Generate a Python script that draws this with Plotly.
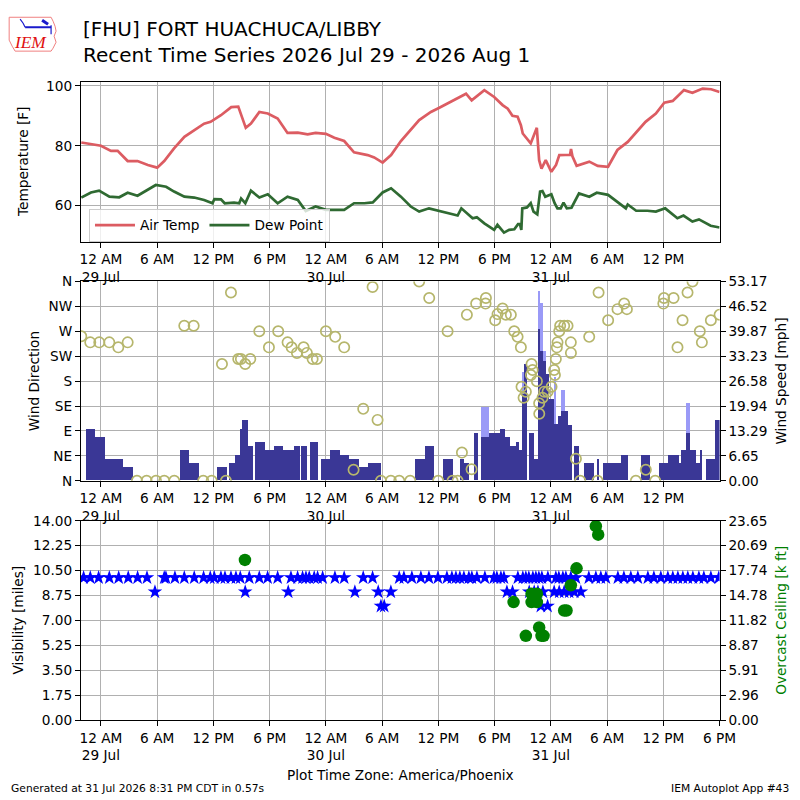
import pandas as pd
import plotly.graph_objects as go

# Time base: hours relative to 2026-07-29 00:00 local (America/Phoenix)
base = pd.Timestamp("2026-07-29 00:00")

# Air temperature / dew point [F]
temp_hr = [-2.1, 0, 1.07, 1.78, 2.85, 3.9, 5.0, 6.0, 6.75, 7.8, 8.9, 9.95, 11.0, 11.7, 12.8, 13.9, 14.65,
           15.45, 16.0, 16.9, 17.8, 18.85, 19.9, 21.0, 22.05, 22.9, 24.0, 24.9, 25.95, 27.0, 28.45, 29.15,
           30.05, 30.95, 32.0, 33.95, 35.2, 36.1, 37.5, 38.95, 39.55, 40.9, 41.95, 42.85, 43.4, 43.9, 44.45,
           44.8, 45.0, 45.85, 46.5, 46.75, 47.0, 47.45, 48.05, 48.55, 48.9, 49.6, 50.05, 50.15, 50.3, 50.75,
           52.1, 53.0, 54.1, 55.1, 56.2, 58.1, 59.2, 60.1, 61.0, 62.2, 63.1, 64.2, 65.1, 66.0]
temp_f = [81.1, 80.0, 78.3, 78.3, 74.9, 74.9, 73.6, 72.7, 74.9, 79.1, 83.0, 85.2, 87.4, 88.0, 90.2, 92.9, 93.1,
          86.0, 87.4, 91.3, 90.8, 89.1, 84.3, 84.4, 83.8, 84.3, 84.0, 82.7, 81.6, 77.8, 76.9, 76.1,
          74.4, 76.9, 81.6, 88.6, 91.3, 92.7, 94.9, 97.4, 95.2, 98.6, 96.3, 93.6, 92.4, 90.0, 89.7,
          86.9, 84.1, 80.8, 86.0, 75.2, 72.4, 75.2, 71.3, 73.6, 76.9, 77.1, 77.0, 78.9, 76.5, 73.3,
          74.7, 73.3, 73.0, 78.6, 81.3, 88.0, 90.8, 94.4, 95.0, 98.6, 97.7, 99.1, 98.9, 98.0]

dew_hr = [-2.1, -1.07, -0.2, 0.9, 1.95, 2.85, 3.9, 5.0, 5.85, 6.95, 7.8, 8.9, 9.95, 11.0, 11.9, 12.1, 12.8,
          13.2, 14.2, 14.75, 14.95, 15.4, 16.0, 16.9, 17.8, 18.85, 19.9, 21.0, 21.85, 22.9, 24.0, 24.9,
          25.95, 27.0, 28.1, 29.0, 30.05, 30.95, 32.0, 33.05, 33.95, 35.0, 36.25, 37.7, 38.05, 38.45, 39.65,
          40.1, 40.9, 41.95, 42.3, 43.0, 43.55, 44.1, 44.5, 44.7, 44.85, 44.95, 45.45, 45.85, 46.15, 46.55,
          46.85, 47.1, 47.4, 48.05, 48.4, 48.7, 49.05, 49.35, 49.7, 50.2, 51.0, 52.1, 52.9, 54.1, 55.1,
          56.0, 56.2, 57.1, 58.3, 59.2, 60.2, 61.5, 62.15, 63.1, 63.8, 65.05, 66.0]
dew_f = [62.7, 64.4, 65.0, 63.0, 62.8, 64.3, 63.3, 65.2, 66.9, 66.3, 64.7, 63.0, 62.7, 61.9, 60.8, 62.2, 62.1,
         60.8, 61.0, 60.8, 62.4, 60.8, 65.0, 62.7, 63.8, 60.8, 63.0, 61.9, 58.2, 59.7, 58.6, 58.6,
         58.6, 60.8, 60.8, 61.1, 64.4, 65.8, 63.0, 59.7, 58.0, 59.1, 58.2, 57.1, 56.7, 59.1, 55.8,
         56.1, 54.1, 51.9, 53.6, 51.0, 51.9, 52.1, 53.8, 53.8, 51.9, 59.1, 59.4, 60.8, 58.0, 57.1,
         64.7, 64.9, 63.0, 63.8, 60.8, 59.1, 59.1, 61.0, 59.1, 59.3, 64.1, 63.0, 64.3, 63.6, 61.3,
         59.1, 60.4, 58.3, 58.3, 58.0, 59.1, 55.8, 56.7, 54.7, 55.4, 53.3, 52.7]

# Wind direction [deg]
wdir_hr = [-2.1, -1.14, -0.18, 0.89, 1.85, 2.85, 3.84, 4.87, 5.87, 6.75, 7.82, 8.89, 9.89, 10.91, 11.81,
           12.91, 13.33, 13.87, 14.65, 14.93, 15.39, 15.93, 16.89, 17.92, 18.91, 19.91, 20.34, 20.91, 21.62,
           21.97, 22.58, 23.04, 24.0, 24.99, 25.95, 26.95, 27.98, 28.98, 29.51, 29.87, 30.93, 31.82, 32.99,
           33.95, 35.02, 35.98, 36.98, 37.51, 38.05, 38.51, 39.04, 39.54, 40.03, 41.03, 41.07, 42.06, 42.31,
           42.85, 43.2, 43.73, 44.09, 44.45, 44.8, 44.87, 45.09, 45.33, 45.87, 45.94, 46.05, 46.51, 46.75,
           46.76, 47.11, 47.29, 47.65, 48.07, 48.35, 48.43, 48.53, 48.64, 48.71, 48.89, 48.99, 49.42, 49.78,
           50.13, 50.14, 50.67, 51.13, 52.09, 52.98, 53.09, 54.11, 55.11, 55.82, 56.11, 57.07, 58.13, 59.13,
           60.0, 60.07, 61.09, 61.51, 62.05, 62.58, 63.11, 63.89, 64.11, 65.07, 66.0]
wdir_deg = [261, 250, 250, 250, 241, 250, 0, 0, 0, 0, 0, 280, 280, 0, 0,
            211, 0, 340, 220, 220, 211, 220, 270, 241, 270, 250, 241, 231, 241,
            231, 220, 220, 270, 260, 241, 20, 130, 350, 110, 0, 0, 0, 0,
            360, 330, 0, 270, 0, 0, 51, 300, 21, 320, 320, 330, 290, 301,
            311, 300, 300, 270, 260, 241, 170, 150, 161, 191, 211, 200, 180, 140,
            121, 150, 161, 161, 170, 200, 191, 220, 241, 250, 270, 280, 280, 280,
            250, 231, 40, 0, 260, 0, 340, 290, 310, 320, 310, 0, 20, 0,
            320, 330, 330, 241, 290, 340, 360, 270, 250, 290, 300]

# Wind speed bars [mph], each bar runs from its start hour to the next one
bar_hr = [-1.6, -0.64, 0.43, 2.31, 3.38, 8.43, 9.39, 10.45, 12.37, 13.44, 13.65, 14.29, 14.86, 15.07, 15.65,
          16.18, 16.43, 17.49, 18.42, 19.38, 20.55, 21.19, 21.33, 21.97, 22.33, 23.11, 23.47, 24.43, 25.49,
          26.49, 27.49, 28.45, 29.87, 33.49, 34.56, 35.49, 36.48, 37.51, 38.29, 38.69, 39.28, 39.75, 40.24,
          40.53, 41.42, 42.56, 43.13, 43.63, 44.27, 44.62, 44.98, 45.15, 45.44, 45.65, 46.22, 46.65, 46.86,
          47.15, 47.47, 47.82, 48.35, 48.53, 48.78, 49.07, 49.53, 49.78, 50.21, 50.45, 50.95, 51.55, 52.61,
          52.98, 53.15, 53.51, 55.47, 56.18, 57.6, 58.56, 59.55, 60.51, 61.62, 61.87, 62.4, 62.86, 63.47,
          63.87, 64.11, 64.5, 65.47]
bar_mph = [13.8, 11.5, 5.75, 3.45, 0, 8.06, 4.6, 0, 3.45, 0, 4.6, 6.9, 13.8, 16.1, 9.2,
           0, 10.36, 8.06, 9.2, 8.06, 9.2, 0, 9.2, 0, 10.36, 0, 5.75, 8.06, 6.9,
           5.75, 3.45, 4.6, 0, 5.75, 9.2, 0, 5.75, 0, 5.75, 4.6, 0, 12.66, 0,
           11.5, 12.66, 13.8, 11.5, 9.2, 10.36, 8.06, 23.0, 31.07, 0, 12.66, 5.75, 40.3, 34.5,
           31.9, 28.4, 21.7, 15.1, 15.0, 17.3, 18.4, 18.4, 14.9, 0, 9.2, 0, 4.6, 0,
           5.75, 0, 4.6, 6.9, 0, 6.9, 0, 4.6, 6.9, 4.6, 8.06, 12.66, 8.06, 4.6,
           8.06, 0, 5.75, 16.1]
gust_hr = [40.53, 44.98, 46.65, 46.86, 47.15, 48.35, 49.07, 62.4]
gust_mph = [19.56, 28.8, 50.6, 47.2, 34.5, 27.5, 24.1, 20.7]
end_hr = 66.0

# Visibility [miles]
vis10_hr = [-1.85, -1.14, -0.25, 0.89, 1.89, 2.91, 3.91, 4.91, 6.75, 6.93, 7.89, 8.89, 9.95, 10.95, 11.66,
            12.09, 12.8, 13.23, 13.87, 14.4, 14.86, 15.82, 16.89, 17.78, 18.85, 20.27, 20.98, 21.51, 21.87,
            22.22, 22.75, 23.11, 23.65, 24.96, 25.95, 27.98, 28.98, 31.82, 32.32, 33.17, 34.13, 34.99, 35.95,
            36.91, 37.44, 37.87, 38.29, 38.72, 39.25, 39.57, 40.11, 40.96, 41.92, 42.24, 42.67, 42.99, 44.48,
            45.01, 45.33, 45.65, 46.08, 46.4, 46.72, 47.04, 47.68, 48.53, 48.85, 49.28, 49.6, 50.13, 50.67,
            52.05, 52.8, 53.33, 53.87, 55.15, 55.79, 56.53, 57.28, 58.35, 58.99, 59.73, 60.48, 61.01, 61.55,
            62.08, 62.61, 63.15, 63.79, 64.32, 65.07, 65.92]
vis9_hr = [5.76, 15.39, 19.98, 27.09, 29.58, 30.93, 43.31, 43.91, 45.69, 46.22, 46.62, 47.15, 48.35,
           48.89, 49.42, 49.95, 50.49, 51.2]
vis8_hr = [29.87, 30.22, 46.93, 47.65]

# Overcast ceiling [k ft]
ceil_hr = [15.36, 44.02, 45.33, 45.94, 46.51, 45.94, 46.51, 46.75, 47.0, 47.22, 49.42, 49.67, 50.13, 50.74,
           52.8, 53.05]
ceil_kft = [19, 14, 10, 15, 15, 14, 14, 11, 10, 10, 13, 13, 16, 18, 23, 22]

# Axis ticks
time_ticks_hr = [0, 6, 12, 18, 24, 30, 36, 42, 48, 54, 60, 66]
time_tick_text = ["12 AM<br>29 Jul", "6 AM", "12 PM", "6 PM", "12 AM<br>30 Jul", "6 AM", "12 PM", "6 PM",
                  "12 AM<br>31 Jul", "6 AM", "12 PM", "6 PM"]
dir_ticks = [0, 45, 90, 135, 180, 225, 270, 315, 360]
dir_labels = ["N", "NE", "E", "SE", "S", "SW", "W", "NW", "N"]
speed_ticks = [0.00, 6.65, 13.29, 19.94, 26.58, 33.23, 39.87, 46.52, 53.17]
vis_ticks = [0.00, 1.75, 3.50, 5.25, 7.00, 8.75, 10.50, 12.25, 14.00]
ceil_ticks = [0.00, 2.96, 5.91, 8.87, 11.82, 14.78, 17.74, 20.69, 23.65]


def to_time(hours):
    return [base + pd.Timedelta(hours=h) for h in hours]


# The photographed page comes out slightly shrunk and offset (body margin etc.),
# so layout positions are given in target-picture pixels and mapped back here.
W, H = 812, 802
SX, SY = 0.98, 0.983
OFFX, OFFY = 8, 14


def px(x):
    return (x / SX - OFFX) / W


def py(y):
    return 1 - (y / SY - OFFY) / H


def fs(size):
    return size / SX


FONT = "DejaVu Sans"
GRID = "#b0b0b0"
x_range = to_time([-2.13, 66.0])

# bar widths from consecutive start times (ms)
edges = bar_hr + [end_hr]
bar_w = [(edges[i + 1] - edges[i]) * 3600 * 1000 for i in range(len(bar_hr))]
gust_w = [bar_w[bar_hr.index(h)] for h in gust_hr]

fig = go.Figure()

# --- top panel: temperature ---
fig.add_trace(go.Scatter(x=to_time(temp_hr), y=temp_f, mode="lines", name="Air Temp",
                         line=dict(color="#dc5c62", width=2.7), xaxis="x", yaxis="y"))
fig.add_trace(go.Scatter(x=to_time(dew_hr), y=dew_f, mode="lines", name="Dew Point",
                         line=dict(color="#2f6a32", width=2.7), xaxis="x", yaxis="y"))

# --- middle panel: wind ---
fig.add_trace(go.Bar(x=to_time(gust_hr), y=gust_mph, width=gust_w, offset=0,
                     marker=dict(color="#9a9af7", line=dict(width=0)),
                     showlegend=False, xaxis="x2", yaxis="y2"))
fig.add_trace(go.Bar(x=to_time(bar_hr), y=bar_mph, width=bar_w, offset=0,
                     marker=dict(color="#3a3796", line=dict(width=0)),
                     showlegend=False, xaxis="x2", yaxis="y2"))
fig.add_trace(go.Scatter(x=to_time(wdir_hr), y=wdir_deg, mode="markers", showlegend=False,
                         marker=dict(symbol="circle-open", size=10.3, color="#b6b66c", line=dict(width=1.7)),
                         xaxis="x2", yaxis="y3"))

# --- bottom panel: visibility and ceiling ---
vis_hr = vis10_hr + vis9_hr + vis8_hr
vis_mi = [10] * len(vis10_hr) + [9] * len(vis9_hr) + [8] * len(vis8_hr)
fig.add_trace(go.Scatter(x=to_time(vis_hr), y=vis_mi, mode="markers", showlegend=False,
                         marker=dict(symbol="star", size=11, color="#0000ff", line=dict(width=0)),
                         xaxis="x3", yaxis="y4"))
fig.add_trace(go.Scatter(x=to_time(ceil_hr), y=ceil_kft, mode="markers", showlegend=False,
                         marker=dict(symbol="circle", size=12.5, color="#008000", line=dict(width=0)),
                         xaxis="x3", yaxis="y5"))

tick_font = dict(family=FONT, size=fs(13.4), color="black")
x_dom = [px(80), px(720)]


def x_axis(anchor, show_last):
    n = len(time_ticks_hr) if show_last else len(time_ticks_hr) - 1
    return dict(type="date", range=x_range, domain=x_dom, anchor=anchor,
                tickvals=to_time(time_ticks_hr[:n]), ticktext=time_tick_text[:n],
                showgrid=True, gridcolor=GRID, gridwidth=1, showline=True, linecolor="black",
                linewidth=1.2, mirror=True, ticks="outside", ticklen=5, tickcolor="black",
                tickfont=tick_font, zeroline=False)


def y_axis(**kw):
    d = dict(showline=True, linecolor="black", linewidth=1.2, ticks="outside", ticklen=5,
             tickcolor="black", tickfont=tick_font, zeroline=False, gridcolor=GRID, gridwidth=1)
    d.update(kw)
    return d


fig.update_layout(
    width=W, height=H,
    margin=dict(l=0, r=0, t=0, b=0),
    paper_bgcolor="white", plot_bgcolor="white",
    font=dict(family=FONT, color="black"),
    barmode="overlay", bargap=0,
    xaxis=x_axis("y", False),
    xaxis2=x_axis("y2", False),
    xaxis3=x_axis("y4", True),
    yaxis=y_axis(domain=[py(240), py(80)], anchor="x", range=[48, 101.3], tickvals=[60, 80, 100],
                 showgrid=True, mirror=True),
    yaxis2=y_axis(domain=[py(480), py(280)], anchor="x2", side="right", range=[0, 53.17],
                  tickvals=speed_ticks, ticktext=[f"{v:.2f}" for v in speed_ticks], showgrid=False),
    yaxis3=y_axis(anchor="x2", overlaying="y2", side="left", range=[0, 360],
                  tickvals=dir_ticks, ticktext=dir_labels, showgrid=True),
    yaxis4=y_axis(domain=[py(720), py(520)], anchor="x3", side="left", range=[0, 14],
                  tickvals=vis_ticks, ticktext=[f"{v:.2f}" for v in vis_ticks], showgrid=True),
    yaxis5=y_axis(anchor="x3", overlaying="y4", side="right", range=[0, 23.65],
                  tickvals=ceil_ticks, ticktext=[f"{v:.2f}" for v in ceil_ticks], showgrid=False),
    legend=dict(x=px(88), y=py(207), xanchor="left", yanchor="top", orientation="h",
                bgcolor="rgba(255,255,255,0.8)", bordercolor="#cccccc", borderwidth=1,
                font=dict(family=FONT, size=fs(13.4)), itemwidth=40, tracegroupgap=0),
)

ann = []
ann.append(dict(text="[FHU] FORT HUACHUCA/LIBBY<br>Recent Time Series 2026 Jul 29 - 2026 Aug 1",
                x=px(80), y=py(13), xanchor="left", yanchor="top", align="left",
                font=dict(family=FONT, size=fs(19.6))))
for text, ax, ay, color in [("Temperature [F]", 22, 160, "black"),
                            ("Wind Direction", 33, 380, "black"),
                            ("Wind Speed [mph]", 782, 380, "black"),
                            ("Visibility [miles]", 17, 620, "black"),
                            ("Overcast Ceiling [k ft]", 782, 620, "green")]:
    ann.append(dict(text=text, x=px(ax), y=py(ay), xanchor="center", yanchor="middle",
                    textangle=-90, font=dict(family=FONT, size=fs(13.4), color=color)))
ann.append(dict(text="Plot Time Zone: America/Phoenix", x=px(400), y=py(775), xanchor="center",
                yanchor="middle", font=dict(family=FONT, size=fs(13.4))))
ann.append(dict(text="Generated at 31 Jul 2026 8:31 PM CDT in 0.57s", x=px(8), y=py(789),
                xanchor="left", yanchor="middle", font=dict(family=FONT, size=fs(10.5))))
ann.append(dict(text="IEM Autoplot App #43", x=px(792), y=py(789), xanchor="right",
                yanchor="middle", font=dict(family=FONT, size=fs(10.5))))
ann.append(dict(text="<i>IEM</i>", x=px(29), y=py(40), xanchor="center", yanchor="middle",
                font=dict(family="Liberation Serif", size=fs(17), color="#e01010")))
for a in ann:
    a.update(xref="paper", yref="paper", showarrow=False)
fig.update_layout(annotations=ann)


# IEM logo decoration (Iowa outline + station symbol), target pixels -> paper
def p(pts):
    return "M " + " L ".join(f"{px(x):.4f},{py(y):.4f}" for x, y in pts)


iowa = [(8, 15), (50, 15), (52, 19), (54, 24), (55, 29), (53, 34), (55, 40), (52, 46), (50, 49),
        (14, 49), (11, 44), (8, 38)]
fig.add_shape(type="path", path=p(iowa) + " Z", xref="paper", yref="paper",
              line=dict(color="#f08080", width=1))
fig.add_shape(type="path", path=p([(24, 25), (50, 25)]), xref="paper", yref="paper",
              line=dict(color="#1a1acc", width=2))
fig.add_shape(type="path", path=p([(19, 17), (22, 21), (24, 25)]), xref="paper", yref="paper",
              line=dict(color="#1a1acc", width=1.2))
fig.add_shape(type="path", path=p([(41, 18), (47, 22)]), xref="paper", yref="paper",
              line=dict(color="#1a1acc", width=3))
fig.add_shape(type="path", path=p([(50, 23), (50, 32)]), xref="paper", yref="paper",
              line=dict(color="#1a1acc", width=1.2))

fig.write_html("out.html")
